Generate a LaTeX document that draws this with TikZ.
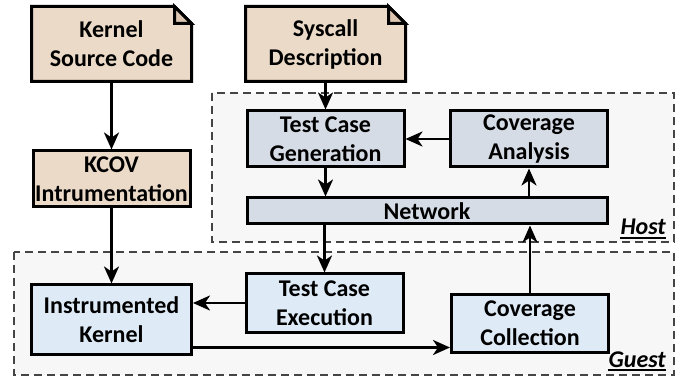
\documentclass[tikz,border=0pt]{standalone}
\usepackage{fontspec}
\setmainfont{Carlito}
\usetikzlibrary{arrows.meta,backgrounds}
\definecolor{notetan}{HTML}{EBDAC8}
\definecolor{notefold}{HTML}{DCC6B2}
\definecolor{hostfill}{HTML}{D6DCE5}
\definecolor{guestfill}{HTML}{DEEBF7}
\definecolor{areafill}{HTML}{F7F7F7}
\definecolor{arealine}{HTML}{454545}
\begin{document}
\begin{tikzpicture}[x=1pt,y=-1pt,
    box/.style={draw=black, line width=3pt, minimum width=157pt, align=center,
      inner sep=0pt, font=\bfseries\fontsize{24}{29}\selectfont},
    hostbox/.style={box, fill=hostfill},
    guestbox/.style={box, fill=guestfill},
    notebox/.style={box, draw=none},
    area/.style={draw=arealine, line width=2.4pt, dash pattern=on 8pt off 5pt, fill=areafill},
    arr/.style={line width=2.6pt, -{Stealth[length=17pt,width=15pt,inset=5pt]}},
    tag/.style={font=\bfseries\itshape\fontsize{24}{29}\selectfont, anchor=base east, inner sep=0pt}]
  \useasboundingbox (0,0) rectangle (681,377) ;
  \draw [area] (212,93) rectangle (674,242) ;
  \draw [area] (14,252) rectangle (674,375) ;
  \node [notebox, minimum height=72pt] (ksrc) at (111.5,44) {Kernel\\Source Code} ;
  \node [notebox, minimum height=72pt] (sysc) at (325.5,44) {Syscall\\Description} ;
  \node [box, fill=notetan, minimum height=56pt] (kcov) at (111.5,179) {KCOV\\Intrumentation} ;
  \node [hostbox, minimum height=56pt] (tcg) at (325.5,139) {Test Case\\Generation} ;
  \node [hostbox, minimum height=56pt] (ana) at (529,139) {Coverage\\Analysis} ;
  \node [hostbox, minimum width=360pt, minimum height=26pt] (net) at (427,211) {Network} ;
  \node [guestbox, minimum height=58pt] (tce) at (324.5,303) {Test Case\\Execution} ;
  \node [guestbox, minimum width=160pt, minimum height=69pt] (ikern) at (111.5,319.5) {Instrumented\\Kernel} ;
  \node [guestbox, minimum height=57pt] (coll) at (530,323.5) {Coverage\\Collection} ;
  \node [tag] (host) at (666,235) {Host} ;
  \node [tag] (guest) at (666,367) {Guest} ;
  \foreach \t in {host,guest} {
    \draw [line width=1.8pt] ([yshift=-3pt]\t.base west) -- ([yshift=-3pt]\t.base east) ;
  }
  \begin{scope}[on background layer]
    \foreach \n in {ksrc,sysc} {
      \draw [line width=3pt, fill=notetan] (\n.north west) -- ([xshift=-17pt]\n.north east)
        -- ([yshift=-17pt]\n.north east) -- (\n.south east) -- (\n.south west) -- cycle ;
      \draw [line width=3pt, fill=notefold] ([xshift=-17pt]\n.north east)
        -- ([xshift=-17pt,yshift=-17pt]\n.north east) -- ([yshift=-17pt]\n.north east) -- cycle ;
    }
  \end{scope}
  \draw [arr] (ksrc.south) -- (kcov.north) ;
  \draw [arr] (kcov.south) -- (ikern.north) ;
  \draw [arr] (sysc.south) -- (tcg.north) ;
  \draw [arr] (tcg.south) -- (tcg.south |- net.north) ;
  \draw [arr] (ana.west) -- (tcg.east) ;
  \draw [arr] (ana.south |- net.north) -- (ana.south) ;
  \draw [arr] (net.south -| tce.north) -- (tce.north) ;
  \draw [arr] (tce.west) -- (tce.west -| ikern.east) ;
  \draw [arr] ([yshift=8pt]ikern.south east) -- ([yshift=8pt]ikern.south east -| coll.west) ;
  \draw [arr] (coll.north) -- (coll.north |- net.south) ;
\end{tikzpicture}
\end{document}
